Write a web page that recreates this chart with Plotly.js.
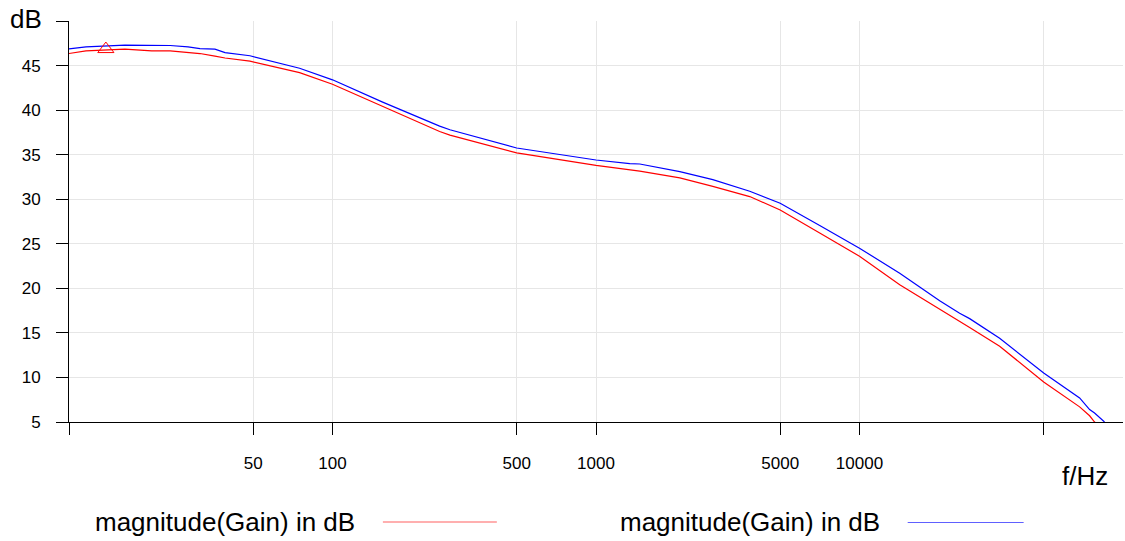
<!DOCTYPE html>
<html>
<head>
<meta charset="utf-8">
<script src="https://cdn.plot.ly/plotly-3.0.1.min.js"></script>
<style>
  html, body { margin: 0; padding: 0; background: #fff; }
  #chart { width: 1125px; height: 541px; }
</style>
</head>
<body>
<div id="chart"></div>
<script>
// Frequencies (Hz)
const freq = [10, 11.6, 16.3, 20.6, 24.2, 28.3, 31.4, 35.8, 39.1, 48.6, 75, 100, 155, 255, 279, 500, 1000, 1343, 1466, 2080, 2775, 3832, 5000, 7063, 7709, 10000, 14210, 20150, 23990, 26180, 34030, 50000, 68450, 74700, 78000, 85100];
// magnitude(Gain) in dB - red series
const gainRed = [46.35, 46.65, 46.85, 46.65, 46.65, 46.5, 46.35, 46.05, 45.85, 45.5, 44.2, 42.9, 40.4, 37.6, 37.2, 35.2, 33.8, 33.35, 33.15, 32.4, 31.45, 30.3, 28.8, 26.2, 25.55, 23.6, 20.4, 17.7, 16.3, 15.6, 13.5, 9.5, 6.7, 5.7, 5.0, 4.0];
// magnitude(Gain) in dB - blue series
const gainBlue = [46.87, 47.1, 47.3, 47.3, 47.25, 47.1, 46.9, 46.85, 46.45, 46.1, 44.7, 43.4, 40.9, 38.2, 37.8, 35.75, 34.4, 34.0, 33.95, 33.1, 32.2, 30.9, 29.55, 27.05, 26.4, 24.5, 21.7, 18.6, 17.2, 16.6, 14.4, 10.5, 7.7, 6.4, 6.0, 5.0];
// marker on red series
const markerFreq = [13.8];
const markerGain = [46.85];

// ticks
const xTickVals = [10, 50, 100, 500, 1000, 5000, 10000, 50000];
const xTickText = ['', '50', '100', '500', '1000', '5000', '10000', ''];
const yTickVals = [5, 10, 15, 20, 25, 30, 35, 40, 45, 50];
const yTickText = ['5', '10', '15', '20', '25', '30', '35', '40', '45', ''];

const seriesName = 'magnitude(Gain) in dB';
const FONT = 'Liberation Sans, Arial, sans-serif';

const traces = [
  {x: freq, y: gainRed, type: 'scatter', mode: 'lines', name: seriesName,
   line: {color: '#ff0000', width: 1.2}, showlegend: false},
  {x: freq, y: gainBlue, type: 'scatter', mode: 'lines', name: seriesName,
   line: {color: '#0000ff', width: 1.2}, showlegend: false},
  {x: markerFreq, y: markerGain, type: 'scatter', mode: 'markers', showlegend: false,
   marker: {symbol: 'triangle-up-open', size: 14, color: '#ff0000', line: {width: 1, color: '#ff0000'}},
   cliponaxis: false}
];

const layout = {
  width: 1125, height: 541,
  margin: {l: 69, r: 2, t: 21, b: 119},
  paper_bgcolor: '#ffffff', plot_bgcolor: '#ffffff',
  font: {family: FONT, color: '#000000', size: 17},
  showlegend: false,
  xaxis: {
    type: 'log', range: [1, 5],
    tickvals: xTickVals, ticktext: xTickText,
    ticks: 'outside', ticklen: 12, tickcolor: '#000000', tickwidth: 1,
    ticklabelstandoff: 14,
    showline: true, linecolor: '#000000', linewidth: 1,
    showgrid: true, gridcolor: '#e6e6e6', gridwidth: 1,
    zeroline: false,
    tickfont: {family: FONT, size: 17, color: '#000000'}
  },
  yaxis: {
    range: [5, 50],
    tickvals: yTickVals, ticktext: yTickText,
    ticks: 'outside', ticklen: 12, tickcolor: '#000000', tickwidth: 1,
    ticklabelstandoff: 12,
    showline: true, linecolor: '#000000', linewidth: 1,
    showgrid: true, gridcolor: '#e6e6e6', gridwidth: 1,
    zeroline: false,
    tickfont: {family: FONT, size: 17, color: '#000000'}
  },
  annotations: [
    {text: 'dB', xref: 'paper', yref: 'paper', x: (26 - 69) / 1054.4, y: (422 - 19) / 401,
     xanchor: 'center', yanchor: 'middle', showarrow: false, font: {family: FONT, size: 26, color: '#000'}},
    {text: 'f/Hz', xref: 'paper', yref: 'paper', x: (1085 - 69) / 1054.4, y: (422 - 476) / 401,
     xanchor: 'center', yanchor: 'middle', showarrow: false, font: {family: FONT, size: 26, color: '#000'}},
    {text: seriesName, xref: 'paper', yref: 'paper', x: (93 - 69) / 1054.4, y: (422 - 522) / 401,
     xanchor: 'left', yanchor: 'middle', showarrow: false, font: {family: FONT, size: 26, color: '#000'}},
    {text: seriesName, xref: 'paper', yref: 'paper', x: (618 - 69) / 1054.4, y: (422 - 522) / 401,
     xanchor: 'left', yanchor: 'middle', showarrow: false, font: {family: FONT, size: 26, color: '#000'}}
  ],
  shapes: [
    {type: 'line', xref: 'paper', yref: 'paper', x0: (383 - 69) / 1054.4, x1: (497 - 69) / 1054.4,
     y0: (422 - 522) / 401, y1: (422 - 522) / 401, line: {color: '#ff6060', width: 1.2}},
    {type: 'line', xref: 'paper', yref: 'paper', x0: (908 - 69) / 1054.4, x1: (1024 - 69) / 1054.4,
     y0: (422 - 522.5) / 401, y1: (422 - 522.5) / 401, line: {color: '#6060ff', width: 1.2}}
  ]
};

Plotly.newPlot('chart', traces, layout, {staticPlot: true, displayModeBar: false});
</script>
</body>
</html>
